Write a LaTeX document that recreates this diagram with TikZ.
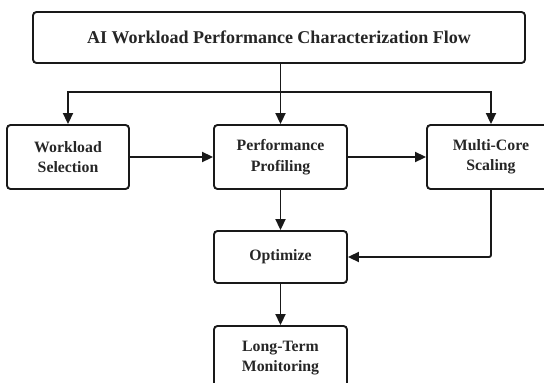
\documentclass[tikz,border=0pt]{standalone}
\usepackage{fontspec}
\setmainfont{Liberation Serif}
\usetikzlibrary{arrows.meta}
\begin{document}
\begin{tikzpicture}[x=1pt,y=-1pt,
  box/.style={draw=black!90, line width=1.9pt, rounded corners=3.5pt, fill=white,
    inner sep=0pt, align=center, font=\fontsize{15.8}{20.5}\selectfont\bfseries, text=black!85},
  conn/.style={line width=1.9pt, draw=black!90, -{Triangle[length=11pt,width=10pt]}}]
\useasboundingbox (0,0) rectangle (544,383);
\clip (0,0) rectangle (544,383);
\fill[white] (0,0) rectangle (544,383);
\node[box, minimum width=492pt, minimum height=51pt, font=\fontsize{18}{20}\selectfont\bfseries] (title) at (279,37.5) {AI Workload Performance Characterization Flow};
\node[box, minimum width=122pt, minimum height=64pt] (work) at (68,157) {Workload\\Selection};
\node[box, minimum width=133pt, minimum height=64pt] (perf) at (280.5,157) {Performance\\Profiling};
\node[box, minimum width=128pt, minimum height=64pt] (multi) at (491,157) {Multi-Core\\Scaling};
\node[box, minimum width=133pt, minimum height=52pt] (opt) at (280.5,257) {Optimize};
\node[box, minimum width=133pt, minimum height=64pt] (lt) at (280.5,358) {Long-Term\\Monitoring};
\coordinate (br) at (280.5,92);
\draw[conn] (title.south -| perf) -- (perf.north);
\draw[conn] (br) -| (work.north);
\draw[conn] (br) -| (multi.north);
\draw[conn] (work.east) -- (perf.west);
\draw[conn] (perf.east) -- (multi.west);
\draw[conn] (perf.south) -- (opt.north);
\draw[conn, rounded corners=2pt] (multi.south) |- (opt.east);
\draw[conn] (opt.south) -- (lt.north);
\end{tikzpicture}
\end{document}
